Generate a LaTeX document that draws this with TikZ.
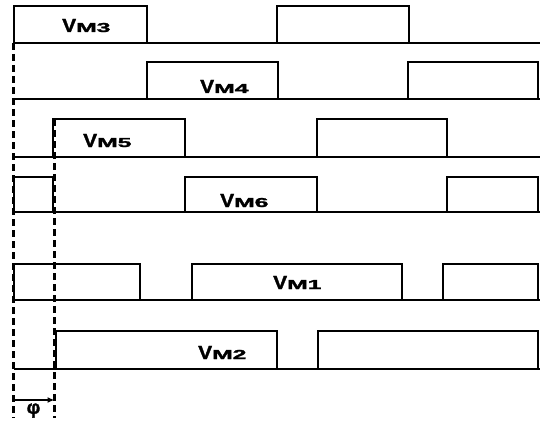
\documentclass[tikz,border=0pt]{standalone}
\usepackage{fontspec}
\usepackage{graphicx}
\setmainfont{Liberation Sans}
\newfontfamily\lblfont{Liberation Sans}[UprightFont=* Bold, FakeBold=1.6]
\usetikzlibrary{arrows.meta}
\tikzset{
  wave/.style={line width=2.2pt, line join=miter, line cap=butt},
  guide/.style={line width=2.2pt, dash pattern=on 7pt off 4pt},
  lbl/.style={anchor=base west, inner sep=0pt}
}
\newcommand{\vlab}[1]{\lblfont\scalebox{1.1}[1]{\fontsize{19}{19}\selectfont V}\scalebox{1.9}[1]{\fontsize{13}{13}\selectfont M#1}}
\begin{document}
\begin{tikzpicture}[x=1pt,y=-1pt]
\useasboundingbox (0,0) rectangle (540,425);
% baselines
\draw[wave] (14,43) -- (540,43);
\draw[wave] (14,99) -- (540,99);
\draw[wave] (14,157) -- (540,157);
\draw[wave] (14,212) -- (540,212);
\draw[wave] (14,300) -- (540,300);
\draw[wave] (14,369) -- (540,369);
% row 1 VM3
\draw[wave] (14,43) rectangle (147,6);
\draw[wave] (277,43) rectangle (409,6);
% row 2 VM4
\draw[wave] (147,99) rectangle (278,62);
\draw[wave] (408,99) rectangle (538,62);
% row 3 VM5
\draw[wave] (53,157) rectangle (185,119);
\draw[wave] (317,157) rectangle (447,119);
% row 4 VM6
\draw[wave] (14,212) rectangle (53,177);
\draw[wave] (185,212) rectangle (317,177);
\draw[wave] (447,212) rectangle (538,177);
% row 5 VM1
\draw[wave] (14,300) rectangle (140,264);
\draw[wave] (192,300) rectangle (402,264);
\draw[wave] (443,300) rectangle (538,264);
% row 6 VM2
\draw[wave] (56,369) rectangle (277,331);
\draw[wave] (318,369) rectangle (538,331);
% guides
\coordinate (g1t) at (13.5,43);
\coordinate (g1b) at (13.5,418);
\coordinate (g2t) at (54.5,119);
\coordinate (g2b) at (54.5,418);
\draw[guide] (g1t) -- (g1b);
\draw[guide] (g2t) -- (g2b);
% phase arrow
\coordinate (a1) at (13.5,400);
\coordinate (a2) at (54.5,400);
\draw[line width=1.8pt, -{Latex[length=7pt,width=6pt]}] (a1) -- (a2);
\node[inner sep=0pt, font=\lblfont\fontsize{19}{19}\selectfont] (phi) at (33.5,410.5) {φ};
% labels
\node[lbl] (l3) at (62,32) {\vlab{3}};
\node[lbl] (l4) at (200,93) {\vlab{4}};
\node[lbl] (l5) at (83,147) {\vlab{5}};
\node[lbl] (l6) at (220,207) {\vlab{6}};
\node[lbl] (l1) at (273,289) {\vlab{1}};
\node[lbl] (l2) at (198,359) {\vlab{2}};
\end{tikzpicture}
\end{document}
